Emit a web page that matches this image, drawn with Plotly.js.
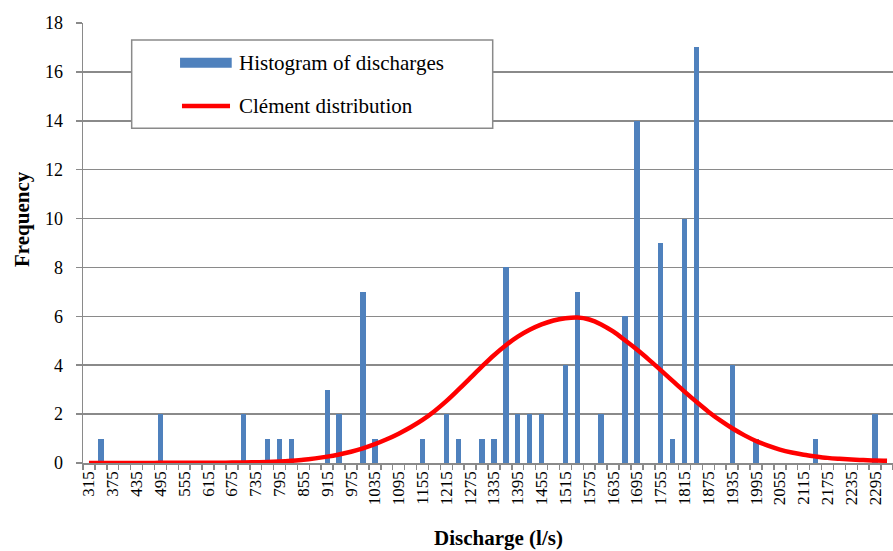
<!DOCTYPE html>
<html>
<head>
<meta charset="utf-8">
<script src="https://cdn.plot.ly/plotly-3.0.1.min.js"></script>
<style>html,body{margin:0;padding:0;background:#fff;}#chart{width:893px;height:551px;}</style>
</head>
<body>
<div id="chart"></div>
<script>
// Discharge classes (l/s), one every 30 l/s
var categories = [315,345,375,405,435,465,495,525,555,585,615,645,675,705,735,765,795,825,855,885,
  915,945,975,1005,1035,1065,1095,1125,1155,1185,1215,1245,1275,1305,1335,1365,1395,1425,1455,1485,
  1515,1545,1575,1605,1635,1665,1695,1725,1755,1785,1815,1845,1875,1905,1935,1965,1995,2025,2055,2085,
  2115,2145,2175,2205,2235,2265,2295,2325];

// Histogram of discharges (frequency per class)
var frequency = [0,1,0,0,0,0,2,0,0,0,0,0,0,2,0,1,1,1,0,0,
  3,2,0,7,1,0,0,0,1,0,2,1,0,1,1,8,2,2,2,0,
  4,7,0,2,0,6,14,0,9,1,10,17,0,0,4,0,1,0,0,0,
  0,1,0,0,0,0,2,0];

// Clément distribution (fitted frequency per class)
var clement = [0.00,0.00,0.00,0.00,0.00,0.00,0.01,0.01,0.01,0.01,0.01,0.01,0.02,0.02,0.03,0.04,0.06,0.09,0.13,0.19,
  0.26,0.35,0.46,0.60,0.77,0.97,1.20,1.46,1.76,2.12,2.53,2.99,3.47,3.95,4.41,4.82,5.17,5.45,5.67,5.83,
  5.92,5.95,5.87,5.67,5.38,5.02,4.64,4.23,3.80,3.36,2.92,2.50,2.10,1.74,1.42,1.14,0.90,0.71,0.55,0.43,
  0.34,0.27,0.21,0.17,0.14,0.12,0.10,0.09];

var classWidth = 30;
// labels on every other class
var tickVals = categories.filter(function(v, i){ return i % 2 === 0; });
var tickText = tickVals.map(function(v){ return String(v); });

var serif = "'Liberation Serif', 'Times New Roman', serif";
var gray = '#8a8a8a';

var traces = [
  {
    type: 'bar', name: 'Histogram of discharges',
    x: categories, y: frequency,
    width: classWidth * 0.45,
    marker: {color: '#4F81BD', line: {width: 0}},
    showlegend: false, hoverinfo: 'x+y'
  },
  {
    type: 'scatter', mode: 'lines', name: 'Clément distribution',
    x: categories, y: clement,
    line: {color: '#FF0000', width: 4.5, shape: 'spline', smoothing: 1},
    showlegend: false, hoverinfo: 'x+y'
  }
];

var layout = {
  width: 893, height: 551,
  margin: {l: 83, r: 0, t: 23, b: 88, pad: 0},
  paper_bgcolor: '#ffffff', plot_bgcolor: '#ffffff',
  font: {family: serif, color: '#000'},
  bargap: 0,
  xaxis: {
    type: 'linear',
    range: [categories[0] - classWidth / 2, categories[categories.length - 1] + classWidth / 2],
    tickmode: 'array', tickvals: tickVals, ticktext: tickText,
    tickangle: -90, ticks: '', tickfont: {family: serif, size: 17, color: '#000'},
    minor: {tickmode: 'linear', tick0: categories[0] - classWidth / 2, dtick: classWidth,
            ticks: 'outside', ticklen: 5, tickwidth: 1.5, tickcolor: gray, showgrid: false},
    showgrid: false, zeroline: false,
    showline: true, linecolor: gray, linewidth: 1.5,
    fixedrange: true
  },
  yaxis: {
    range: [0, 18], dtick: 2, tick0: 0,
    ticks: 'outside', ticklen: 6, tickwidth: 1.5, tickcolor: gray,
    tickfont: {family: serif, size: 18, color: '#000'},
    ticklabelstandoff: 9,
    showgrid: true, gridcolor: gray, gridwidth: 1.5,
    zeroline: false, showline: true, linecolor: gray, linewidth: 1.5,
    fixedrange: true
  },
  shapes: [
    {type: 'rect', xref: 'paper', yref: 'paper', x0: 0.0601, x1: 0.5058, y0: 0.7607, y1: 0.9614,
     fillcolor: '#ffffff', line: {color: gray, width: 1.5}, layer: 'above'},
    {type: 'rect', xref: 'paper', yref: 'paper', x0: 0.1198, x1: 0.1836, y0: 0.8984, y1: 0.9211,
     fillcolor: '#4F81BD', line: {width: 0}, layer: 'above'},
    {type: 'line', xref: 'paper', yref: 'paper', x0: 0.1222, x1: 0.1815, y0: 0.8114, y1: 0.8114,
     line: {color: '#FF0000', width: 4.5}, layer: 'above'}
  ],
  annotations: [
    {text: 'Histogram of discharges', xref: 'paper', yref: 'paper', x: 0.1898, y: 0.9098,
     xanchor: 'left', yanchor: 'middle', showarrow: false, font: {family: serif, size: 21, color: '#000'}},
    {text: 'Clément distribution', xref: 'paper', yref: 'paper', x: 0.1901, y: 0.8114,
     xanchor: 'left', yanchor: 'middle', showarrow: false, font: {family: serif, size: 21, color: '#000'}},
    {text: '<b>Discharge (l/s)</b>', xref: 'paper', yref: 'paper', x: 0.513, y: -0.170,
     xanchor: 'center', yanchor: 'middle', showarrow: false, font: {family: serif, size: 21, color: '#000'}},
    {text: '<b>Frequency</b>', xref: 'paper', yref: 'paper', x: -0.0753, y: 0.5545, textangle: -90,
     xanchor: 'center', yanchor: 'middle', showarrow: false, font: {family: serif, size: 21, color: '#000'}}
  ]
};

Plotly.newPlot('chart', traces, layout, {displayModeBar: false, staticPlot: true});
</script>
</body>
</html>
